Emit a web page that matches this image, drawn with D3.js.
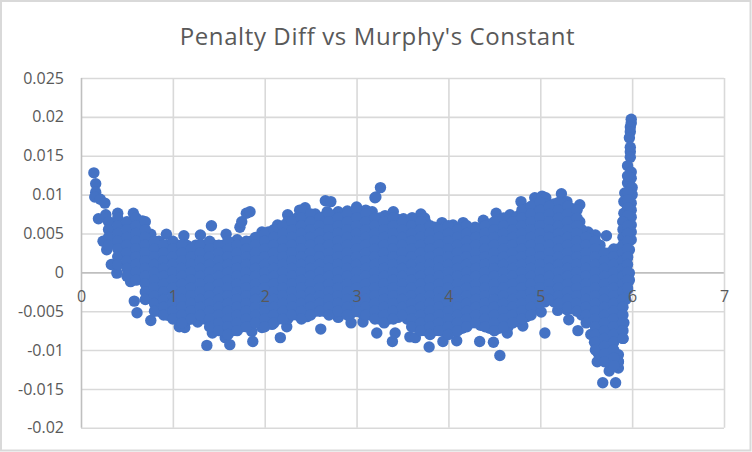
<!DOCTYPE html>
<html><head><meta charset="utf-8">
<script src="https://cdn.jsdelivr.net/npm/d3@7"></script>
<style>html,body{margin:0;padding:0;background:#fff}svg{display:block}</style>
</head><body><svg id="c" width="752" height="452"></svg>
<script>
const chartTitle = "Penalty Diff vs Murphy's Constant";
const xTicks = [0,1,2,3,4,5,6,7];
const yTicks = [0.025,0.02,0.015,0.01,0.005,0,-0.005,-0.01,-0.015,-0.02];
const yTickLabels = ["0.025","0.02","0.015","0.01","0.005","0","-0.005","-0.01","-0.015","-0.02"];

// Outlying and outline points: Murphy's Constant, Penalty Diff (in thousandths)
const outlineMurphy = [0.14,0.16,0.16,0.15,0.21,0.26,0.19,0.27,0.40,0.57,0.67,0.76,0.24,0.28,0.33,0.39,0.54,0.58,0.61,0.76,0.94,1.07,1.13,1.27,1.43,1.37,1.57,1.62,1.86,1.87,1.97,2.08,2.17,0.93,1.12,1.30,1.42,1.58,1.70,1.73,1.75,1.80,1.84,1.97,2.04,2.14,2.25,2.38,2.44,2.66,2.72,2.68,2.80,2.90,3.00,3.10,3.17,3.20,3.21,3.26,3.31,3.40,3.51,3.61,3.70,3.74,3.93,4.05,4.16,4.29,4.38,4.52,4.67,4.79,4.94,5.02,5.06,5.23,5.29,5.43,5.43,5.52,5.60,5.72,2.24,2.46,2.61,2.80,2.94,3.07,3.22,3.39,3.42,3.58,3.64,3.79,3.94,4.09,4.34,4.49,4.56,4.64,4.81,5.05,5.01,5.19,5.29,5.31,5.41,5.59,5.63,5.62,5.75,5.85,5.68,5.82,5.85,5.85];
const outlineDiff = [12.8,11.4,10.3,9.7,9.4,8.9,6.9,7.4,7.6,7.6,6.6,4.9,4.0,2.9,1.0,-0.1,-1.2,-3.7,-5.2,-6.2,-5.5,-7.0,-7.1,-6.4,-7.8,-9.4,-8.4,-9.3,-7.6,-8.9,-7.1,-6.7,-8.4,4.9,4.7,4.8,6.0,4.9,4.2,5.8,6.5,7.6,7.8,5.2,5.2,6.1,7.4,8.0,8.3,9.2,9.1,7.8,7.8,7.9,8.4,8.0,7.8,9.6,9.7,10.9,7.3,7.8,6.9,7.0,7.5,7.0,6.4,6.1,6.4,5.8,6.7,7.6,7.4,9.1,9.6,9.8,9.6,10.1,9.1,8.7,6.5,5.2,4.8,4.7,-7.0,-5.7,-7.3,-5.8,-6.5,-6.4,-7.8,-8.9,-7.8,-8.3,-8.4,-9.6,-8.9,-8.8,-8.9,-9.0,-10.7,-7.8,-6.9,-7.8,-5.1,-4.9,-4.8,-6.1,-7.5,-9.0,-10.4,-11.5,-12.7,-12.3,-14.2,-14.2,-10.6,-11.5];

// The spike close to Murphy's Constant = 6
const spikeMurphy = [5.99,5.99,5.98,5.98,5.97,5.98,5.98,5.98,5.95,5.99,5.99,5.95,6.00,5.92,6.00,5.91,5.99,5.99,5.91,5.90,5.99,5.95,5.95,5.95,5.95,5.95,5.99,5.99,5.99,5.97,5.95,5.97,5.97,5.95,5.93,5.91,5.90];
const spikeDiff = [19.7,19.2,18.7,18.1,17.3,16.1,15.5,14.8,13.7,12.9,12.1,11.5,10.9,10.2,10.0,9.1,8.9,8.0,7.6,6.5,7.1,10.3,9.3,8.3,7.3,12.4,6.1,5.2,4.2,2.9,1.9,-0.1,-1.0,-2.2,-3.5,-6.5,-8.5];

// Points between the body columns, near its upper and lower edges
const edgeMurphy = [0.85,0.95,1.05,1.15,1.25,1.35,1.45,1.55,1.65,1.75,1.85,1.95,2.05,2.15,2.25,2.35,2.45,2.55,2.65,2.75,2.85,2.95,3.05,3.15,3.25,3.35,3.45,3.55,3.65,3.75,3.85,3.95,4.05,4.15,4.25,4.35,4.45,4.55,4.65,4.75,4.85,4.95,5.05,5.15,5.25,5.35,5.45,5.55,5.65,5.75,5.85];
const edgeUpper = [4,3.5,3.5,3.5,3.5,3.5,3.5,3.5,3.5,3.5,4,4.5,5,5.5,6.5,7,7.5,7.5,7.2,7.2,7.2,7.5,7.7,7.5,7,6.8,6.8,6.5,6.5,6.5,5.8,5.7,5.7,5.7,5.5,5.7,6.2,6.7,6.7,7.2,8.2,8.8,8.8,8.8,8.8,8.2,5.5,4.3,3.5,2.5,3];
const edgeLower = [-5,-5.5,-6,-6.2,-6,-6,-7,-7.5,-7.5,-7,-6.5,-6.5,-6.5,-6,-6,-5.5,-5.5,-5,-5,-5.2,-5,-5.2,-5.2,-5.5,-6,-6,-5.8,-6,-7,-7.5,-7.5,-7.5,-7.5,-7.2,-6.5,-6.8,-7.2,-7.2,-7,-6.3,-5.7,-4.7,-3.8,-3.8,-4.2,-4.7,-5.5,-8,-10.5,-11.5,-11.5];

// The dense body of the cloud, listed by column
const bodyMurphy = [0.3,0.4,0.5,0.6,0.7,0.8,0.9,1.0,1.1,1.2,1.3,1.4,1.5,1.6,1.7,1.8,1.9,2.0,2.1,2.2,2.3,2.4,2.5,2.6,2.7,2.8,2.9,3.0,3.1,3.2,3.3,3.4,3.5,3.6,3.7,3.8,3.9,4.0,4.1,4.2,4.3,4.4,4.5,4.6,4.7,4.8,4.9,5.0,5.1,5.2,5.3,5.4,5.5,5.6,5.7,5.8,5.9,5.95];
const bodyDiff = [
[6.5,5.5,4.5,3.5],
[7,6,5,4,3,2,1],
[6.5,5.5,4.5,3.5,2.5,1.5,0.5,-0.5],
[7,6,5,4,3,2,1,0,-1],
[6.5,5.5,4.5,3.5,2.5,1.5,0.5,-0.5,-1.5,-2.5,-3.5],
[4,3,2,1,0,-1,-2,-3,-4,-5],
[3.5,2.5,1.5,0.5,-0.5,-1.5,-2.5,-3.5,-4.5,-5.5],
[4,3,2,1,0,-1,-2,-3,-4,-5,-6],
[3.5,2.5,1.5,0.5,-0.5,-1.5,-2.5,-3.5,-4.5,-5.5,-6.5],
[3,2,1,0,-1,-2,-3,-4,-5,-6],
[3.5,2.5,1.5,0.5,-0.5,-1.5,-2.5,-3.5,-4.5,-5.5],
[4,3,2,1,0,-1,-2,-3,-4,-5,-6,-7],
[3.5,2.5,1.5,0.5,-0.5,-1.5,-2.5,-3.5,-4.5,-5.5,-6.5,-7.5],
[4,3,2,1,0,-1,-2,-3,-4,-5,-6,-7,-8],
[3.5,2.5,1.5,0.5,-0.5,-1.5,-2.5,-3.5,-4.5,-5.5,-6.5,-7.5],
[4,3,2,1,0,-1,-2,-3,-4,-5,-6,-7],
[4.5,3.5,2.5,1.5,0.5,-0.5,-1.5,-2.5,-3.5,-4.5,-5.5,-6.5],
[5,4,3,2,1,0,-1,-2,-3,-4,-5,-6,-7],
[5.5,4.5,3.5,2.5,1.5,0.5,-0.5,-1.5,-2.5,-3.5,-4.5,-5.5,-6.5],
[6,5,4,3,2,1,0,-1,-2,-3,-4,-5,-6],
[6.5,5.5,4.5,3.5,2.5,1.5,0.5,-0.5,-1.5,-2.5,-3.5,-4.5,-5.5],
[8,7,6,5,4,3,2,1,0,-1,-2,-3,-4,-5,-6],
[7.5,6.5,5.5,4.5,3.5,2.5,1.5,0.5,-0.5,-1.5,-2.5,-3.5,-4.5,-5.5],
[7,6,5,4,3,2,1,0,-1,-2,-3,-4,-5],
[7.5,6.5,5.5,4.5,3.5,2.5,1.5,0.5,-0.5,-1.5,-2.5,-3.5,-4.5,-5.5],
[7,6,5,4,3,2,1,0,-1,-2,-3,-4,-5],
[7.5,6.5,5.5,4.5,3.5,2.5,1.5,0.5,-0.5,-1.5,-2.5,-3.5,-4.5,-5.5],
[8,7,6,5,4,3,2,1,0,-1,-2,-3,-4,-5],
[7.5,6.5,5.5,4.5,3.5,2.5,1.5,0.5,-0.5,-1.5,-2.5,-3.5,-4.5,-5.5],
[7,6,5,4,3,2,1,0,-1,-2,-3,-4,-5,-6],
[6.5,5.5,4.5,3.5,2.5,1.5,0.5,-0.5,-1.5,-2.5,-3.5,-4.5,-5.5,-6.5],
[7,6,5,4,3,2,1,0,-1,-2,-3,-4,-5,-6],
[6.5,5.5,4.5,3.5,2.5,1.5,0.5,-0.5,-1.5,-2.5,-3.5,-4.5,-5.5],
[7,6,5,4,3,2,1,0,-1,-2,-3,-4,-5,-6,-7],
[6.5,5.5,4.5,3.5,2.5,1.5,0.5,-0.5,-1.5,-2.5,-3.5,-4.5,-5.5,-6.5,-7.5],
[6,5,4,3,2,1,0,-1,-2,-3,-4,-5,-6,-7,-8],
[5.5,4.5,3.5,2.5,1.5,0.5,-0.5,-1.5,-2.5,-3.5,-4.5,-5.5,-6.5,-7.5],
[6,5,4,3,2,1,0,-1,-2,-3,-4,-5,-6,-7,-8],
[5.5,4.5,3.5,2.5,1.5,0.5,-0.5,-1.5,-2.5,-3.5,-4.5,-5.5,-6.5,-7.5],
[6,5,4,3,2,1,0,-1,-2,-3,-4,-5,-6,-7],
[5.5,4.5,3.5,2.5,1.5,0.5,-0.5,-1.5,-2.5,-3.5,-4.5,-5.5,-6.5],
[6,5,4,3,2,1,0,-1,-2,-3,-4,-5,-6,-7],
[6.5,5.5,4.5,3.5,2.5,1.5,0.5,-0.5,-1.5,-2.5,-3.5,-4.5,-5.5,-6.5,-7.5],
[7,6,5,4,3,2,1,0,-1,-2,-3,-4,-5,-6,-7],
[6.5,5.5,4.5,3.5,2.5,1.5,0.5,-0.5,-1.5,-2.5,-3.5,-4.5,-5.5,-6.5],
[8,7,6,5,4,3,2,1,0,-1,-2,-3,-4,-5,-6],
[8.5,7.5,6.5,5.5,4.5,3.5,2.5,1.5,0.5,-0.5,-1.5,-2.5,-3.5,-4.5,-5.5],
[9,8,7,6,5,4,3,2,1,0,-1,-2,-3,-4],
[8.5,7.5,6.5,5.5,4.5,3.5,2.5,1.5,0.5,-0.5,-1.5,-2.5,-3.5],
[9,8,7,6,5,4,3,2,1,0,-1,-2,-3,-4],
[8.5,7.5,6.5,5.5,4.5,3.5,2.5,1.5,0.5,-0.5,-1.5,-2.5,-3.5,-4.5],
[8,7,6,5,4,3,2,1,0,-1,-2,-3,-4,-5],
[4.5,3.5,2.5,1.5,0.5,-0.5,-1.5,-2.5,-3.5,-4.5,-5.5,-6.5],
[4,3,2,1,0,-1,-2,-3,-4,-5,-6,-7,-8,-9,-10],
[2.5,1.5,0.5,-0.5,-1.5,-2.5,-3.5,-4.5,-5.5,-6.5,-7.5,-8.5,-9.5,-10.5,-11.5],
[3,2,1,0,-1,-2,-3,-4,-5,-6,-7,-8,-9,-10,-11,-12],
[6.5,5.5,4.5,3.5,2.5,1.5,0.5,-0.5,-1.5,-2.5,-3.5,-4.5,-5.5,-6.5,-7.5,-8.5],
[6,5,4,3,2,1,0,-1,-2]
];

const points = [];
outlineMurphy.forEach((m,i)=>points.push([m,outlineDiff[i]/1000]));
spikeMurphy.forEach((m,i)=>points.push([m,spikeDiff[i]/1000]));
edgeMurphy.forEach((m,i)=>{points.push([m,edgeUpper[i]/1000]);points.push([m,edgeLower[i]/1000]);});
bodyMurphy.forEach((m,i)=>bodyDiff[i].forEach(v=>points.push([m,v/1000])));

const svg = d3.select("#c");
const x = d3.scaleLinear().domain([0,7]).range([81,724]);
const y = d3.scaleLinear().domain([-0.02,0.025]).range([427.8,78]);
const grey = "#595959", font = "'Open Sans',sans-serif";

svg.append("rect").attr("x",1).attr("y",1).attr("width",749.5).attr("height",449.5)
  .attr("fill","#fff").attr("stroke","#d9d9d9").attr("stroke-width",2);

const gridY = svg.append("g").attr("transform",`translate(${x(0)},0)`)
  .call(d3.axisLeft(y).tickValues(yTicks).tickSize(-(x(7)-x(0))).tickFormat(""));
gridY.select(".domain").remove();
gridY.selectAll("line").attr("stroke",d=>d===0?"#bfbfbf":"#d9d9d9").attr("stroke-width",1.6);

const gridX = svg.append("g").attr("transform",`translate(0,${y(-0.02)})`)
  .call(d3.axisBottom(x).tickValues(xTicks).tickFormat(""));
gridX.select(".domain").remove();
gridX.selectAll("line").attr("y2",-(y(-0.02)-y(0.025))).attr("stroke",d=>d===0?"#bfbfbf":"#d9d9d9").attr("stroke-width",1.6);

svg.append("g").selectAll("circle").data(points).join("circle")
  .attr("cx",d=>x(d[0])).attr("cy",d=>y(d[1])).attr("r",5.7).attr("fill","#4472C4");

const axisY = svg.append("g").attr("transform",`translate(${x(0)},0)`)
  .call(d3.axisLeft(y).tickValues(yTicks).tickSize(0).tickPadding(17).tickFormat((d,i)=>yTickLabels[i]));
axisY.select(".domain").remove();
axisY.selectAll("text").attr("fill",grey).style("font-family",font).style("font-size","16px");

const axisX = svg.append("g").attr("transform",`translate(0,${y(0)})`)
  .call(d3.axisBottom(x).tickValues(xTicks).tickSize(0).tickPadding(18).tickFormat(d3.format("d")));
axisX.select(".domain").remove();
axisX.selectAll("text").attr("fill",grey).style("font-family",font).style("font-size","16px");

svg.append("text").attr("x",377.5).attr("y",45).attr("text-anchor","middle")
  .attr("fill",grey).style("font-family",font).style("font-size","24px").style("letter-spacing","0.6px").text(chartTitle);
</script></body></html>
